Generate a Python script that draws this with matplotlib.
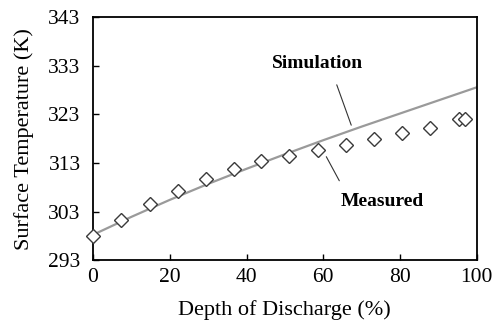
import matplotlib
matplotlib.use("Agg")
import matplotlib.pyplot as plt

# Simulated surface temperature curve
sim_dod = [0, 10, 20, 30, 40, 50, 60, 70, 80, 90, 100]
sim_temp = [298.2, 301.9, 305.4, 308.7, 311.8, 314.8, 317.7, 320.5, 323.2, 325.9, 328.6]

# Measured points
meas_dod = [0, 7.2, 14.9, 22.1, 29.4, 36.8, 43.8, 51.2, 58.6, 66.0, 73.3, 80.6, 87.9, 95.3, 96.9]
meas_temp = [298.0, 301.2, 304.5, 307.3, 309.7, 311.7, 313.5, 314.5, 315.6, 316.8, 317.9, 319.1, 320.3, 322.0, 322.1]

x_ticks = [0, 20, 40, 60, 80, 100]
y_ticks = [293, 303, 313, 323, 333, 343]

plt.rcParams["font.family"] = ["Liberation Serif", "DejaVu Serif"]

fig = plt.figure(figsize=(4.95, 3.22), dpi=100)
ax = fig.add_axes([0.188, 0.1925, 0.775, 0.7532])

ax.plot(sim_dod, sim_temp, color="#9a9a9a", linewidth=1.6, zorder=2)
ax.plot(meas_dod, meas_temp, linestyle="none", marker="D", markersize=7.5,
        markerfacecolor="white", markeredgecolor="#3a3a3a", markeredgewidth=1.0,
        clip_on=False, zorder=3)

# callouts
ax.annotate("Simulation", xy=(67.3, 320.8), xytext=(58.4, 333.6),
            fontsize=14, fontweight="bold", ha="center", va="center",
            arrowprops=dict(arrowstyle="-", color="#333333", lw=0.8,
                            relpos=(0.63, 0.5), shrinkA=8, shrinkB=0))
ax.annotate("Measured", xy=(60.8, 314.3), xytext=(75.4, 305.0),
            fontsize=14, fontweight="bold", ha="center", va="center",
            arrowprops=dict(arrowstyle="-", color="#333333", lw=0.8,
                            relpos=(0.12, 0.5), shrinkA=8, shrinkB=0))

ax.set_xlim(0, 100)
ax.set_ylim(293, 343)
ax.set_xticks(x_ticks)
ax.set_yticks(y_ticks)
ax.tick_params(direction="in", length=4, width=1.0, labelsize=15.5)
ax.tick_params(axis="x", pad=6)
ax.tick_params(axis="y", pad=9)
for s in ax.spines.values():
    s.set_linewidth(1.3)

ax.set_xlabel("Depth of Discharge (%)", fontsize=16, labelpad=9)
ax.set_ylabel("Surface Temperature (K)", fontsize=16, labelpad=10)

fig.savefig("out.png", dpi=100)
